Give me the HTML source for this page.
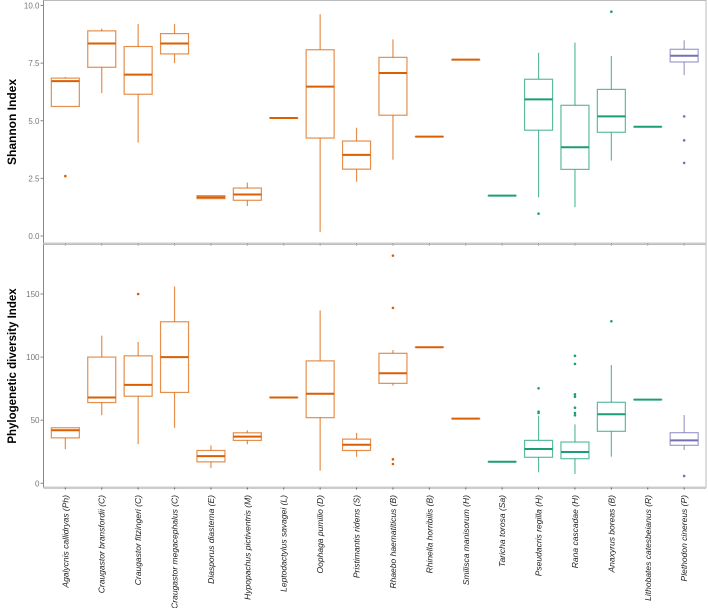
<!DOCTYPE html>
<html><head><meta charset="utf-8"><style>
body{margin:0;background:#fff}
svg{display:block;font-family:"Liberation Sans",sans-serif}
</style></head><body>
<svg id="chart" width="708" height="608" viewBox="0 0 708 608"></svg>
<script>
const categories=["Agalycnis callidryas (Ph)","Craugastor bransfordii (C)","Craugastor fitzingeri (C)","Craugastor megacephalus (C)","Diasporus diastema (E)","Hypopachus pictiventris (M)","Leptodactylus savagei (L)","Oophaga pumilio (D)","Pristimantis ridens (S)","Rhaebo haematiticus (B)","Rhinella horribilis (B)","Smilisca manisorum (H)","Taricha torosa (Sa)","Pseudacris regilla (H)","Rana cascadae (H)","Anaxyrus boreas (B)","Lithobates catesbeianus (R)","Plethodon cinereus (P)"];
const groups=["o","o","o","o","o","o","o","o","o","o","o","o","g","g","g","g","g","p"];
// [whiskerLow, q1, median, q3, whiskerHigh]
const shannonStats=[[5.62,5.62,6.72,6.85,6.9],[6.2,7.32,8.35,8.9,9.0],[4.05,6.15,7.0,8.22,9.2],[7.5,7.9,8.35,8.78,9.2],[1.62,1.62,1.68,1.75,1.75],[1.3,1.55,1.8,2.08,2.32],[5.12,5.12,5.12,5.12,5.12],[0.18,4.25,6.48,8.08,9.62],[2.35,2.9,3.52,4.12,4.7],[3.31,5.24,7.07,7.75,8.53],[4.31,4.31,4.31,4.31,4.31],[7.65,7.65,7.65,7.65,7.65],[1.75,1.75,1.75,1.75,1.75],[1.68,4.59,5.93,6.8,7.95],[1.25,2.89,3.85,5.67,8.39],[3.27,4.5,5.19,6.36,7.81],[4.74,4.74,4.74,4.74,4.74],[6.98,7.55,7.82,8.1,8.49]];
const shannonOutliers=[[2.6],[],[],[],[],[],[],[],[],[],[],[],[],[0.97],[],[9.73],[],[5.19,4.15,3.17]];
const pdStats=[[27,36,42,44,44],[54,64,68,100,117],[31,69,78,101,112],[44,72,100,128,156],[12,17,21.5,26,30],[31,34,37,40,42],[68,68,68,68,68],[10,52,71,97,137],[21,26,30.5,35,40],[77.3,79.2,87.2,103,105.6],[107.8,107.8,107.8,107.8,107.8],[51.2,51.2,51.2,51.2,51.2],[17.1,17.1,17.1,17.1,17.1],[8.7,20.6,27.2,34,53.6],[7.4,19.5,24.8,32.7,46.7],[21.1,41.2,54.7,64.2,93.7],[66.3,66.3,66.3,66.3,66.3],[26.4,30.1,34,40.1,54.1]];
const pdOutliers=[[],[],[150],[],[],[],[],[],[],[180.4,139,19,15.3],[],[],[],[56.8,55.7,75.3],[101,94.6,70.5,68.6,59.9,55.7,53.9],[128.4],[],[5.8]];
const shannonTicks=[0,2.5,5,7.5,10];
const shannonTickLabels=["0.0","2.5","5.0","7.5","10.0"];
const pdTicks=[0,50,100,150];
const pdTickLabels=["0","50","100","150"];

const NS="http://www.w3.org/2000/svg";
const svg=document.getElementById('chart');
const colors={o:"#d95f02",g:"#1b9e77",p:"#7570b3"};
const X0=43.5,X1=706,band=(X1-X0)/18.2;
const xs=i=>X0+band*0.6+band*i;
function el(tag,attrs,parent){const e=document.createElementNS(NS,tag);for(const k in attrs)e.setAttribute(k,attrs[k]);(parent||svg).appendChild(e);return e;}

function panel(name,top,bottom,yScale,ticks,tickLabels,stats,outliers,title,tsize){
  const g=el('g',{});
  
  
  const fr=el('rect',{x:X0,y:top,width:X1-X0,height:bottom-top,fill:'none',stroke:'#bbb','stroke-width':1},g);
  
  
  const ax=el('line',{x1:X0,x2:X0,y1:top,y2:bottom,stroke:'#888','stroke-width':1},g);
  
  
  const xa=el('rect',{x:X0,y:bottom-1,width:X1-X0,height:2.5,fill:'#ccc'},g);
  
  
  ticks.forEach((t,i)=>{
    const y=yScale(t);
    el('line',{x1:X0-3,x2:X0,y1:y,y2:y,stroke:'#888'},g);
    const tx=el('text',{x:X0-4,y:y+3,'font-size':8,fill:'#777','text-anchor':'end'},g);
    tx.textContent=tickLabels[i];
    
    
  });
  categories.forEach((c,i)=>{
    const x=xs(i);
    el('line',{x1:x,x2:x,y1:bottom,y2:bottom+2,stroke:'#666'},g);
  });
  const tt=el('text',{x:0,y:0,'font-size':tsize,'font-weight':'bold',fill:'#000','text-anchor':'middle',transform:`translate(16,${(top+bottom)/2}) rotate(-90)`},g);
  tt.textContent=title;
  
  
  const hw=14;
  stats.forEach((s,i)=>{
    const x=xs(i),col=colors[groups[i]];
    const bg=el('g',{},g);
    
    
    const [lo,q1,md,q3,hi]=s.map(yScale);
    el('line',{x1:x,x2:x,y1:hi,y2:q3,stroke:col,'stroke-opacity':0.7,'stroke-width':1.2},bg);
    el('line',{x1:x,x2:x,y1:q1,y2:lo,stroke:col,'stroke-opacity':0.7,'stroke-width':1.2},bg);
    el('rect',{x:x-hw,y:q3,width:2*hw,height:Math.max(q1-q3,0.01),fill:'#fff',stroke:col,'stroke-opacity':0.7,'stroke-width':1.2},bg);
    el('line',{x1:x-hw,x2:x+hw,y1:md,y2:md,stroke:col,'stroke-width':2},bg);
    outliers[i].forEach(v=>{
      const c=el('circle',{cx:x,cy:yScale(v),r:1.3,fill:col},bg);
      
      
    });
  });
}
panel('shannon',0.5,243.5,v=>236-v*23.05,shannonTicks,shannonTickLabels,shannonStats,shannonOutliers,'Shannon Index',12);
panel('phylogenetic',244.5,487.5,v=>483.3-v*1.262,pdTicks,pdTickLabels,pdStats,pdOutliers,'Phylogenetic diversity Index',11.5);
categories.forEach((c,i)=>{
  const t=el('text',{x:0,y:0,'font-size':8.5,'font-style':'italic',fill:'#222','text-anchor':'end',transform:`translate(${xs(i)+3},495) rotate(-90)`});
  t.textContent=c;
  
  
});
</script>
</body></html>
